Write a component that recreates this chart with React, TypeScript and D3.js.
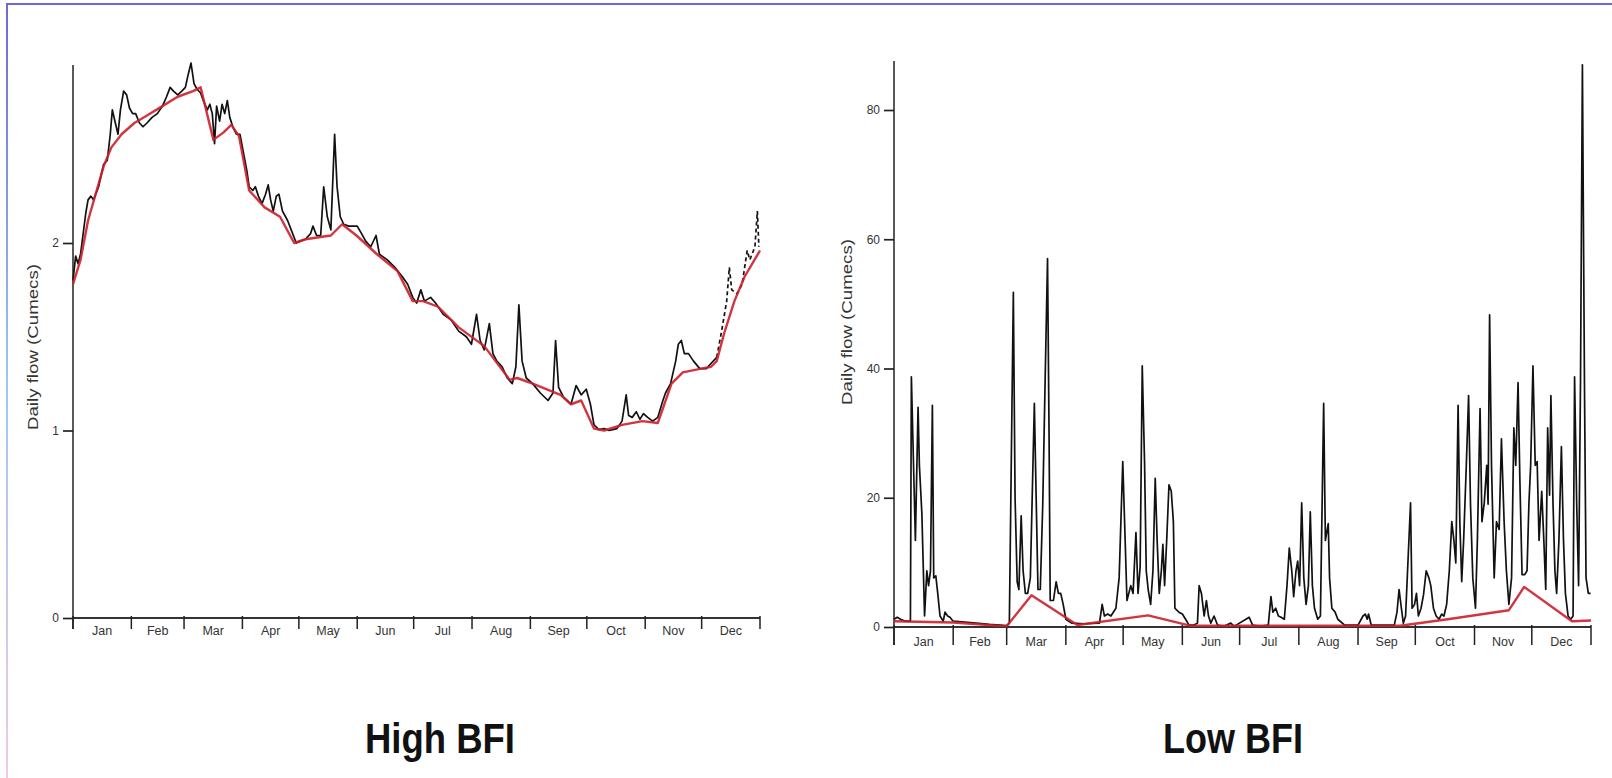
import React, { useEffect, useRef } from "react";
import * as d3 from "d3";

// month boundaries (day of year) and labels
const months = ["Jan", "Feb", "Mar", "Apr", "May", "Jun", "Jul", "Aug", "Sep", "Oct", "Nov", "Dec"];
const monthStarts = [0, 31, 59, 90, 120, 151, 181, 212, 243, 273, 304, 334, 365];
const highTicks = [0, 1, 2];
const lowTicks = [0, 20, 40, 60, 80];

// High BFI: daily flow [day, cumecs]
const highFlow: [number, number][] = [
  [0, 1.8], [1.4, 1.93], [2.7, 1.89], [4, 1.94], [6.8, 2.16], [8, 2.23], [9.5, 2.25], [10.9, 2.23],
  [13.6, 2.3], [16.3, 2.42], [18.2, 2.44], [19.8, 2.58], [20.9, 2.71], [22.5, 2.64], [23.9, 2.58],
  [25.2, 2.71], [26.9, 2.81], [28.5, 2.79], [30, 2.72], [31.7, 2.69], [33.3, 2.69], [35.3, 2.64],
  [37.2, 2.62], [39.3, 2.64], [42, 2.67], [44.8, 2.69], [47.5, 2.73], [49.7, 2.78], [51.6, 2.83],
  [53.4, 2.81], [55.6, 2.79], [57.8, 2.81], [59.7, 2.83], [61, 2.89], [62.7, 2.96], [64.3, 2.85],
  [65.9, 2.82], [67.8, 2.8], [69.2, 2.76], [71.4, 2.71], [72.7, 2.74], [74, 2.69], [75.2, 2.53],
  [76.3, 2.73], [77.9, 2.65], [79.2, 2.74], [80.6, 2.69], [82, 2.76], [83.3, 2.67], [84.9, 2.62],
  [86.8, 2.58], [88.7, 2.58], [90.4, 2.49], [92.3, 2.39], [93.6, 2.3], [95.5, 2.28], [96.9, 2.3],
  [98.5, 2.25], [100.4, 2.21], [102.3, 2.26], [103.7, 2.31], [105, 2.23], [106.4, 2.17], [108, 2.25],
  [109.4, 2.26], [111.3, 2.17], [114, 2.12], [116.7, 2.05], [118.6, 2.0], [120.8, 2.01], [123.5, 2.02],
  [126.2, 2.05], [127.5, 2.09], [129.4, 2.04], [131.6, 2.04], [133.2, 2.3], [135.1, 2.14], [137, 2.07],
  [139, 2.58], [140.3, 2.3], [142, 2.14], [143.8, 2.1], [146.5, 2.09], [149.3, 2.09], [151, 2.09],
  [153.3, 2.05], [155.5, 2.01], [158.2, 1.98], [161, 2.04], [162.8, 1.94], [167, 1.91], [171, 1.87],
  [175, 1.82], [177.8, 1.78], [180.5, 1.71], [182.6, 1.68], [184.8, 1.75], [186.7, 1.69], [190, 1.71],
  [192.6, 1.68], [196.7, 1.62], [200.8, 1.59], [204.9, 1.53], [209, 1.5], [211.7, 1.46], [214.4, 1.62],
  [216.3, 1.48], [218.5, 1.43], [221.2, 1.57], [223.1, 1.41], [225.2, 1.37], [228, 1.34], [230.7, 1.28],
  [233.4, 1.25], [235.3, 1.34], [236.9, 1.67], [238.6, 1.37], [240.8, 1.28], [244.2, 1.25], [248.3, 1.2],
  [252.4, 1.16], [255, 1.2], [256.4, 1.48], [258, 1.23], [260.5, 1.18], [264.6, 1.14], [267.3, 1.24],
  [270, 1.19], [272.7, 1.22], [274.9, 1.14], [276.8, 1.03], [279.5, 1.005], [282.2, 1.01], [284.9, 1.0],
  [289, 1.01], [291.7, 1.05], [293.9, 1.19], [295.2, 1.08], [297.1, 1.07], [299.3, 1.1], [301.2, 1.06],
  [303.1, 1.09], [305.3, 1.07], [308, 1.05], [310.7, 1.07], [313.4, 1.16], [314.8, 1.2], [317.5, 1.25],
  [320.2, 1.37], [321.6, 1.46], [323.2, 1.48], [324.8, 1.41], [327, 1.41], [329.7, 1.37], [333, 1.33],
  [336.5, 1.33], [339.2, 1.36], [342, 1.39],
];
// the December part is broken / dashed in the original
const highFlowDashed: [number, number][] = [
  [342, 1.39], [344.6, 1.53], [347.3, 1.69], [348.7, 1.87], [350, 1.75], [352.8, 1.73], [355.5, 1.78],
  [358.2, 1.96], [359.6, 1.91], [362.3, 1.98], [363.6, 2.17], [364.4, 1.98],
];
// High BFI: baseflow
const highBase: [number, number][] = [
  [0, 1.78], [4, 1.91], [8, 2.12], [12, 2.26], [16.3, 2.41], [20.4, 2.51], [25.8, 2.58], [32.6, 2.64],
  [39.3, 2.68], [47.5, 2.73], [55.6, 2.78], [63.8, 2.81], [67.8, 2.83], [74.6, 2.55], [80, 2.59],
  [84.1, 2.63], [88.2, 2.57], [93.6, 2.28], [101.8, 2.19], [110, 2.14], [117.5, 2.0], [123.5, 2.02],
  [137, 2.04], [143, 2.1], [150.6, 2.04], [161.5, 1.94], [172.4, 1.85], [180.5, 1.69], [186, 1.69],
  [194, 1.66], [204.9, 1.55], [218.5, 1.45], [232, 1.27], [236, 1.28], [244.2, 1.25], [259, 1.19],
  [264.6, 1.14], [270, 1.16], [276.8, 1.01], [282.2, 1.0], [291.7, 1.03], [302.6, 1.05], [310.7, 1.04],
  [318, 1.25], [324, 1.31], [333.8, 1.33], [339, 1.34], [342, 1.37], [346, 1.52], [351.4, 1.69],
  [356.8, 1.82], [365, 1.96],
];

// Low BFI: daily flow
const lowFlow: [number, number][] = [
  [0, 1.2], [1.7, 1.5], [3.4, 1.2], [6, 0.9], [8.6, 0.9], [9.1, 38.7], [11.2, 13.4], [12.6, 34],
  [13.3, 25], [14.6, 17.5], [16, 1.7], [17.2, 8.7], [18.1, 6.4], [19.1, 8.7], [20.1, 34.3], [20.8, 7.6],
  [21.9, 7.9], [22.9, 5.2], [24.1, 1.7], [25.8, 0.9], [26.7, 2.3], [28.1, 1.7], [29.3, 1.5], [31, 0.9],
  [40, 0.7], [50, 0.4], [59, 0.2], [60.4, 0.6], [61.6, 30], [62.5, 51.8], [63.4, 20], [64.5, 7],
  [65.4, 5.8], [66.6, 17.2], [67.6, 8.7], [68.8, 5.2], [70, 5.2], [71.4, 7.6], [73.5, 34.6], [74.5, 19.2],
  [75.4, 5.8], [76.6, 5.8], [77.9, 19], [79.2, 39], [80.4, 57], [81.2, 30], [81.8, 4.1], [83.5, 4.1],
  [84.9, 7], [86.1, 5.2], [87.3, 5.2], [88.6, 3.5], [90, 1.2], [93, 0.6], [100, 0.5], [107.6, 0.6],
  [109, 3.5], [110.2, 1.7], [111.9, 2], [113.6, 1.7], [116.2, 2.9], [117.9, 7.6], [119.8, 25.6], [122, 4.1],
  [124, 6.4], [125.2, 5.2], [126.7, 14.6], [127.8, 5.2], [128.9, 9.3], [130, 40.4], [131.2, 25.6],
  [132.1, 8.7], [133.1, 5.8], [134.4, 3.5], [135.6, 8.7], [136.8, 23], [137.8, 13.4], [138.9, 5.2],
  [140, 8.7], [140.8, 12.8], [141.7, 6.4], [142.8, 13.4], [144, 22], [145.2, 21], [146.3, 16.3],
  [147.1, 2.9], [149.2, 2.3], [151, 2], [152.7, 1.2], [154.5, 0.3], [157.1, 0.3], [158.9, 0.6],
  [159.8, 6.4], [161, 5.2], [162.4, 1.7], [163.6, 4.1], [164.7, 1.7], [165.9, 0.6], [167.6, 1.7],
  [169.4, 0.3], [172.8, 0.1], [176.4, 0.6], [178.1, 0.1], [186, 1.5], [187.8, 0.3], [192, 0.1],
  [196, 0.3], [197.4, 4.7], [198.4, 2.3], [199.9, 2.9], [201.3, 1.7], [202.7, 1.5], [204.4, 1.2],
  [205.8, 6.4], [207, 12.2], [208.3, 8.7], [209.3, 4.7], [210.5, 8.7], [211.4, 10.2], [212.4, 6.4],
  [213.5, 19.2], [214.6, 7.6], [215.8, 3.5], [217, 6.4], [218, 17.8], [219.1, 6.4], [220.2, 2.9],
  [221.9, 1.2], [223.3, 1.7], [225, 34.6], [225.9, 13.4], [227.4, 16], [228.1, 7.6], [229.3, 2.9],
  [231, 2.3], [232.4, 1.2], [236, 0.3], [243, 0.3], [245.6, 1.7], [246.8, 2], [247.8, 1.2], [248.5, 2],
  [249.9, 0.3], [255, 0.3], [262, 0.3], [263.4, 2.3], [264.5, 5.8], [265.7, 2.9], [266.7, 0.6],
  [267.9, 1.7], [270.5, 19.2], [271.3, 2.9], [272.6, 3.5], [273.6, 5.2], [274.6, 1.7], [276, 2.9],
  [277.3, 5], [278.7, 8.7], [280.1, 7.6], [281.1, 6.4], [282.5, 2.9], [283.9, 1.7], [285.4, 1.2],
  [286.8, 2], [288, 1.7], [289.4, 3.5], [290.8, 8.7], [292.1, 16.3], [293.2, 13.4], [294.2, 9.9],
  [295.4, 34.3], [296.3, 16.3], [297.3, 7], [298.3, 13.4], [299.7, 25], [300.9, 35.8], [301.9, 19],
  [303.1, 7.6], [304.5, 2.9], [305.5, 13.4], [306.9, 33.8], [307.9, 16.3], [309.1, 19.2], [310.4, 25],
  [311.1, 19], [311.9, 48.3], [312.9, 25], [314.3, 7.6], [315.5, 16.3], [316.9, 15.1], [318.1, 29.1],
  [319.5, 16.3], [320.7, 8.7], [322, 3.5], [323.4, 7.6], [324.6, 30.8], [325.6, 25], [326.8, 37.8],
  [327.8, 22.1], [328.9, 8.1], [330.3, 8.1], [331.5, 8.7], [332.5, 19.2], [333.4, 25], [334.6, 40.4],
  [335.8, 25], [336.8, 25.6], [337.8, 13.4], [339.2, 21], [340.3, 13.4], [341.3, 5.8], [342.3, 30.8],
  [343.3, 20.4], [344, 35.8], [345.1, 19.2], [346.1, 8.7], [347, 5.2], [348.2, 13.4], [349.5, 27.9],
  [350.6, 13.4], [351.6, 5.2], [353, 1.7], [354.4, 1.2], [355.6, 1.7], [356.4, 38.7], [357.5, 19.2],
  [358.5, 6.4], [359.5, 37.8], [360.5, 87], [361.6, 36.7], [362.4, 7.6], [363.6, 5.2], [364.8, 5.2],
];
// Low BFI: baseflow
const lowBase: [number, number][] = [
  [0, 0.9], [31, 0.7], [59, 0.1], [72, 4.9], [96, 0.3], [133, 1.8], [155, 0.2], [265, 0.2],
  [290, 1.2], [322, 2.6], [330, 6.2], [355, 0.9], [365, 1.0],
];

type Panel = {
  xRange: [number, number];
  yDomain: [number, number];
  yRange: [number, number];
  axisTop: number;
  ticks: number[];
  flow: [number, number][];
  dashed?: [number, number][];
  base: [number, number][];
  tickDown: number;
  labelY: number;
  yLabelX: number;
  yLabelY: number;
  title: string;
  titleX: number;
  titleW: number;
};

const FONT = "'Liberation Sans Narrow', 'Arial Narrow', 'Liberation Sans', Arial, sans-serif";

function drawPanel(svg: d3.Selection<SVGSVGElement, unknown, null, undefined>, p: Panel) {
  const x = d3.scaleLinear().domain([0, 365]).range(p.xRange);
  const y = d3.scaleLinear().domain(p.yDomain).range(p.yRange);
  const g = svg.append("g");
  const x0 = p.xRange[0];
  const y0 = y(0);

  // y axis line
  g.append("line").attr("x1", x0).attr("x2", x0).attr("y1", p.axisTop).attr("y2", y0 + p.tickDown)
    .attr("stroke", "#222").attr("stroke-width", 1.5);

  const yAxis = d3.axisLeft(y).tickValues(p.ticks).tickSize(10).tickPadding(4).tickFormat(d3.format("d"));
  const ya = g.append("g").attr("transform", `translate(${x0},0)`).call(yAxis);
  ya.select(".domain").remove();
  ya.selectAll("line").attr("stroke", "#222").attr("stroke-width", 1.7);
  ya.selectAll("text").attr("font-family", FONT).attr("font-size", 12).attr("fill", "#333");

  // x axis
  g.append("line").attr("x1", x0).attr("x2", p.xRange[1]).attr("y1", y0).attr("y2", y0)
    .attr("stroke", "#333").attr("stroke-width", 2.2);
  g.selectAll(".mtick").data(monthStarts).enter().append("line")
    .attr("x1", (d) => x(d)).attr("x2", (d) => x(d))
    .attr("y1", y0 - 2).attr("y2", y0 + p.tickDown)
    .attr("stroke", "#222").attr("stroke-width", 1.5);
  g.selectAll(".mlabel").data(months).enter().append("text")
    .attr("x", (d, i) => x((monthStarts[i] + monthStarts[i + 1]) / 2))
    .attr("y", p.labelY)
    .attr("text-anchor", "middle")
    .attr("font-family", FONT).attr("font-size", 12.5).attr("fill", "#333")
    .text((d) => d);

  // y label
  g.append("text")
    .attr("transform", `translate(${p.yLabelX},${p.yLabelY}) rotate(-90)`)
    .attr("text-anchor", "middle")
    .attr("font-family", "'Liberation Sans', Arial, sans-serif").attr("font-size", 15).attr("fill", "#333")
    .attr("textLength", 166).attr("lengthAdjust", "spacingAndGlyphs")
    .text("Daily flow (Cumecs)");

  const line = d3.line<[number, number]>().x((d) => x(d[0])).y((d) => y(d[1]));
  g.append("path").attr("d", line(p.flow)).attr("fill", "none")
    .attr("stroke", "#111").attr("stroke-width", 1.7).attr("stroke-linejoin", "round");
  if (p.dashed) {
    g.append("path").attr("d", line(p.dashed)).attr("fill", "none")
      .attr("stroke", "#111").attr("stroke-width", 1.7).attr("stroke-dasharray", "4,3");
  }
  g.append("path").attr("d", line(p.base)).attr("fill", "none")
    .attr("stroke", "#cc1f2a").attr("stroke-width", 2.4).attr("stroke-opacity", 0.9)
    .attr("stroke-linejoin", "round");

  // title
  g.append("text")
    .attr("x", p.titleX).attr("y", 753)
    .attr("text-anchor", "middle")
    .attr("font-family", "'Liberation Sans', Arial, sans-serif").attr("font-weight", "bold")
    .attr("font-size", 42).attr("fill", "#111")
    .attr("textLength", p.titleW).attr("lengthAdjust", "spacingAndGlyphs")
    .text(p.title);
}

export default function App() {
  const ref = useRef<SVGSVGElement>(null);

  useEffect(() => {
    const svg = d3.select(ref.current!);
    svg.selectAll("*").remove();

    // frame
    const grad = svg.append("defs").append("linearGradient")
      .attr("id", "leftEdge").attr("x1", 0).attr("x2", 0).attr("y1", 0).attr("y2", 1);
    grad.append("stop").attr("offset", "0%").attr("stop-color", "#6a6ad8");
    grad.append("stop").attr("offset", "50%").attr("stop-color", "#9ec8f0");
    grad.append("stop").attr("offset", "100%").attr("stop-color", "#f2c8e8");
    svg.append("rect").attr("x", 6).attr("y", 3).attr("width", 2).attr("height", 775).attr("fill", "url(#leftEdge)");
    svg.append("rect").attr("x", 6).attr("y", 3).attr("width", 1606).attr("height", 2).attr("fill", "#6a6ad8");

    drawPanel(svg, {
      xRange: [73, 760], yDomain: [0, 2], yRange: [618, 243], axisTop: 65, ticks: highTicks,
      flow: highFlow, dashed: highFlowDashed, base: highBase, tickDown: 11, labelY: 635,
      yLabelX: 38, yLabelY: 347, title: "High BFI", titleX: 440, titleW: 150,
    });
    drawPanel(svg, {
      xRange: [894, 1591], yDomain: [0, 80], yRange: [627, 110], axisTop: 61, ticks: lowTicks,
      flow: lowFlow, base: lowBase, tickDown: 18, labelY: 646,
      yLabelX: 852, yLabelY: 322, title: "Low BFI", titleX: 1233, titleW: 140,
    });
  }, []);

  return (
    <svg ref={ref} width={1612} height={778}
      style={{ position: "absolute", left: 0, top: 0, display: "block", background: "#fff" }} />
  );
}
